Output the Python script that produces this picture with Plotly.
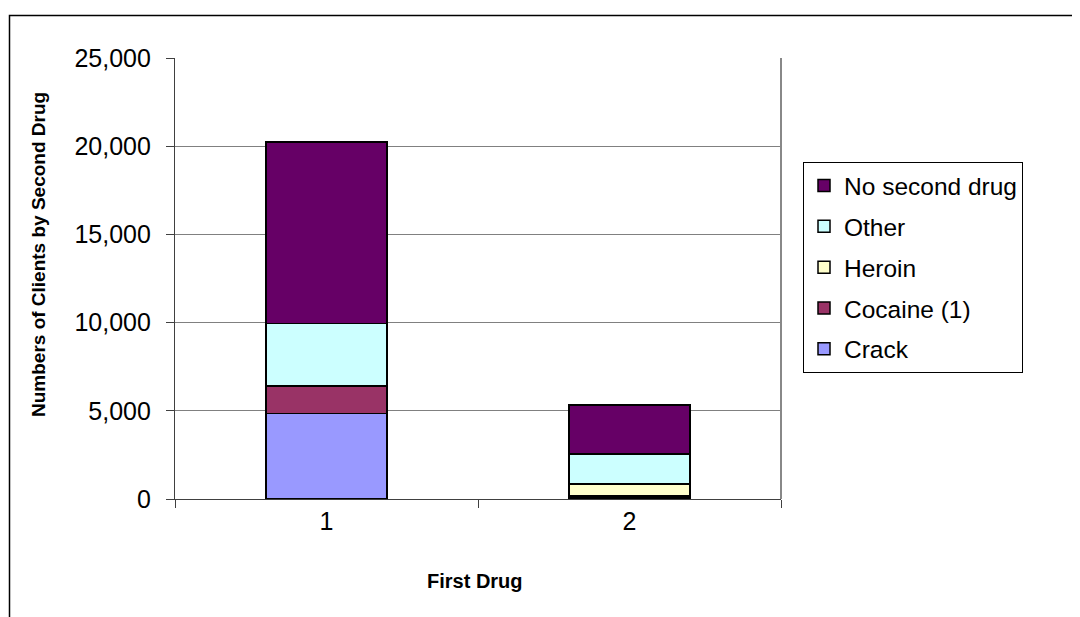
import plotly.graph_objects as go

categories = ["1", "2"]
series_names = ["Crack", "Cocaine (1)", "Heroin", "Other", "No second drug"]
crack = [4840, 100]
cocaine = [1580, 100]
heroin = [0, 660]
other = [3530, 1700]
no_second = [10290, 2760]
series_values = [crack, cocaine, heroin, other, no_second]
colors = ["#9999FF", "#993366", "#FFFFCC", "#CCFFFF", "#660066"]
y_ticks = [0, 5000, 10000, 15000, 20000, 25000]

# page body has an 8px margin; work in reference pixel coords minus offset
OFF = 8
W, H = 1080 - OFF, 617 - OFF
L, R, T, B = 175 - OFF, 781 - OFF, 58 - OFF, 499 - OFF


def px_x(x):
    return (x - OFF - L) / (R - L)


def px_y(y):
    return 1 - (y - OFF - T) / (B - T)


fig = go.Figure()
n = len(series_names)
for i, (name, vals, col) in enumerate(zip(series_names, series_values, colors)):
    fig.add_trace(go.Bar(
        x=categories, y=vals, name=name, legendgroup=name, legendrank=n - i,
        marker=dict(color=col, line=dict(color="#000000", width=1.5)),
    ))

fig.update_layout(
    width=W, height=H,
    barmode="stack", bargap=0.6,
    plot_bgcolor="white", paper_bgcolor="white",
    margin=dict(l=L, r=W - R, t=T, b=H - B, pad=0),
    font=dict(family="Liberation Sans, Arial, sans-serif", color="#000000", size=25),
    showlegend=True,
    legend=dict(
        x=px_x(803), y=px_y(162),
        xanchor="left", yanchor="top",
        traceorder="grouped", tracegroupgap=6,
        bordercolor="#000000", borderwidth=1,
        font=dict(size=24.5),
        itemwidth=30,
    ),
    xaxis=dict(
        type="category", tickson="boundaries", ticks="outside", ticklen=8,
        tickcolor="#404040", showline=True, linecolor="#404040", linewidth=1.2,
        showgrid=False, tickfont=dict(size=25),
    ),
    yaxis=dict(
        range=[0, 25000], tickvals=y_ticks, tickformat=",d",
        ticks="outside", ticklen=8, tickcolor="#404040",
        showline=True, linecolor="#404040", linewidth=1.2,
        showgrid=True, gridcolor="#808080", gridwidth=1,
        zeroline=False, tickfont=dict(size=25), ticklabelstandoff=10,
    ),
    annotations=[
        dict(text="<b>Numbers of Clients by Second Drug</b>", textangle=-90,
             xref="paper", yref="paper",
             x=px_x(38), y=px_y(255),
             xanchor="center", yanchor="middle", showarrow=False,
             font=dict(size=19)),
        dict(text="<b>First Drug</b>", xref="paper", yref="paper",
             x=px_x(475), y=px_y(581),
             xanchor="center", yanchor="middle", showarrow=False,
             font=dict(size=20)),
    ],
    shapes=[
        dict(type="rect", xref="paper", yref="paper",
             x0=px_x(9.5), x1=px_x(1200),
             y0=px_y(700), y1=px_y(15.5),
             line=dict(color="#000000", width=1.5), layer="below"),
        dict(type="line", xref="paper", yref="paper",
             x0=1, x1=1, y0=0, y1=1,
             line=dict(color="#888888", width=2), layer="above"),
    ],
)

fig.write_html("out.html")
